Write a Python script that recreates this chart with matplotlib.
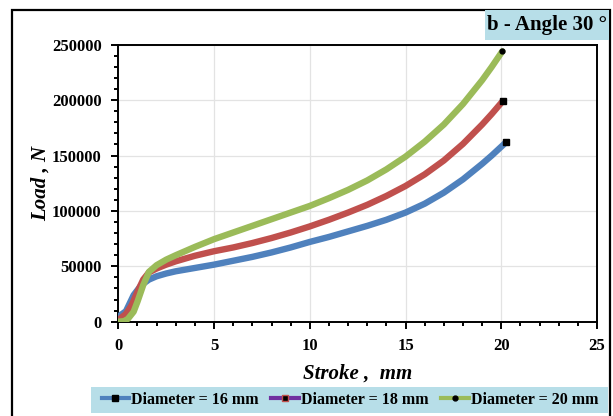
import matplotlib
matplotlib.use("Agg")
import matplotlib.pyplot as plt
from matplotlib.lines import Line2D
from matplotlib.patches import Rectangle
from matplotlib.ticker import MultipleLocator

plt.rcParams['font.family'] = ['Liberation Serif', 'DejaVu Serif']
plt.rcParams['font.weight'] = 'bold'

# values
stroke_16 = [0, 0.4, 0.8, 1.2, 1.6, 2.0, 2.5, 3, 4, 5, 6, 7, 8, 9, 10, 11, 12, 13, 14, 15,
             16, 17, 18, 19, 19.5, 20, 20.25]
load_16 = [4500, 9500, 24000, 33000, 38000, 41000, 43500, 45500, 48500, 51500, 55000, 58500,
           62500, 67000, 72000, 76500, 81500, 86500, 92000, 98500, 106500, 116500, 128500,
           142500, 150000, 158000, 162000]

stroke_18 = [0, 0.4, 0.7, 1.0, 1.3, 1.6, 2.0, 2.5, 3, 4, 5, 6, 7, 8, 9, 10, 11, 12, 13, 14, 15,
             16, 17, 18, 19, 19.5, 20.07]
load_18 = [1500, 7000, 15000, 27000, 38000, 44500, 48000, 51500, 54500, 59500, 63600, 67000,
           71000, 75500, 80500, 86000, 92000, 98500, 105500, 113500, 122500, 133000, 145500,
           160500, 178000, 187500, 199000]

stroke_20 = [0, 0.3, 0.5, 0.8, 1.0, 1.3, 1.6, 2.0, 2.5, 3, 4, 5, 6, 7, 8, 9, 10, 11, 12, 13, 14,
             15, 16, 17, 18, 19, 19.5, 20.05]
load_20 = [0, 500, 2500, 9000, 18000, 33000, 45000, 51000, 56000, 60000, 67500, 74500, 80500,
           86500, 92500, 98500, 104500, 111500, 119000, 127500, 137500, 149000, 162500, 178000,
           196500, 218000, 230000, 244000]

labels = ['Diameter = 16 mm', 'Diameter = 18 mm', 'Diameter = 20 mm']
colors = ['#4F81BD', '#C0504D', '#9BBB59']
legend_line_colors = ['#4F81BD', '#7030A0', '#9BBB59']
end_markers = ['s', 's', 'o']
end_sizes = [5, 5, 3.5]

fig = plt.figure(figsize=(6.13, 4.16), dpi=100)
ax = fig.add_axes([0.193, 0.2267, 0.781, 0.6658])

series = [(stroke_16, load_16), (stroke_18, load_18), (stroke_20, load_20)]
for (xs, ys), c, m, ms in zip(series, colors, end_markers, end_sizes):
    ax.plot(xs, ys, color=c, lw=4.6, solid_capstyle='round', solid_joinstyle='round', zorder=3)
    ax.plot(xs[-1:], ys[-1:], ls='none', marker=m, ms=ms, color='black', zorder=4)

ax.set_xlim(0, 25)
ax.set_ylim(0, 250000)
ax.xaxis.set_major_locator(MultipleLocator(5))
ax.xaxis.set_minor_locator(MultipleLocator(1))
ax.yaxis.set_major_locator(MultipleLocator(50000))
ax.yaxis.set_minor_locator(MultipleLocator(10000))
ax.grid(True, which='major', color='#e3e3e3', lw=0.9, zorder=0)
ax.tick_params(which='major', direction='out', length=5, width=1.4, labelsize=12, pad=7)
ax.tick_params(which='minor', direction='out', length=3, width=1.4)
for lab in ax.get_xticklabels() + ax.get_yticklabels():
    lab.set_fontweight('bold')
for s in ax.spines.values():
    s.set_linewidth(1.4)

ax.set_xlabel('Stroke ,  mm', fontsize=15, fontweight='bold', style='italic', labelpad=7)
ax.set_ylabel('Load , N', fontsize=15, fontweight='bold', style='italic', labelpad=1)

# outer frame
fig.patches.append(Rectangle((12 / 613, -0.1), (610 - 12) / 613, 1 - 10 / 416 + 0.1,
                             transform=fig.transFigure, fill=False, ec='black', lw=1.6))

# title box
fig.patches.append(Rectangle((485 / 613, 1 - 40 / 416), (609 - 485) / 613, 30 / 416,
                             transform=fig.transFigure, fc='#B7DEE8', ec='none'))
fig.text(547 / 613, 1 - 25 / 416, 'b - Angle 30 °', ha='center', va='center',
         fontsize=15, fontweight='bold')

# legend box
fig.patches.append(Rectangle((91 / 613, 1 - 413 / 416), (608 - 91) / 613, 26 / 416,
                             transform=fig.transFigure, fc='#B7DEE8', ec='none'))
handles = [Line2D([], [], color=lc, lw=3, marker=m, ms=ms, mfc='black', mec=mec)
           for lc, m, ms, mec in zip(legend_line_colors, end_markers, [5, 5, 3.5],
                                     ['black', '#C0504D', 'black'])]
fig.legend(handles, labels, ncol=3, loc='center', bbox_to_anchor=(350 / 613, 1 - 400 / 416),
           frameon=False, prop={'family': 'Liberation Serif', 'weight': 'bold', 'size': 11.5},
           handlelength=1.7, handletextpad=0.15, columnspacing=0.8)

fig.savefig('out.png', dpi=100)
